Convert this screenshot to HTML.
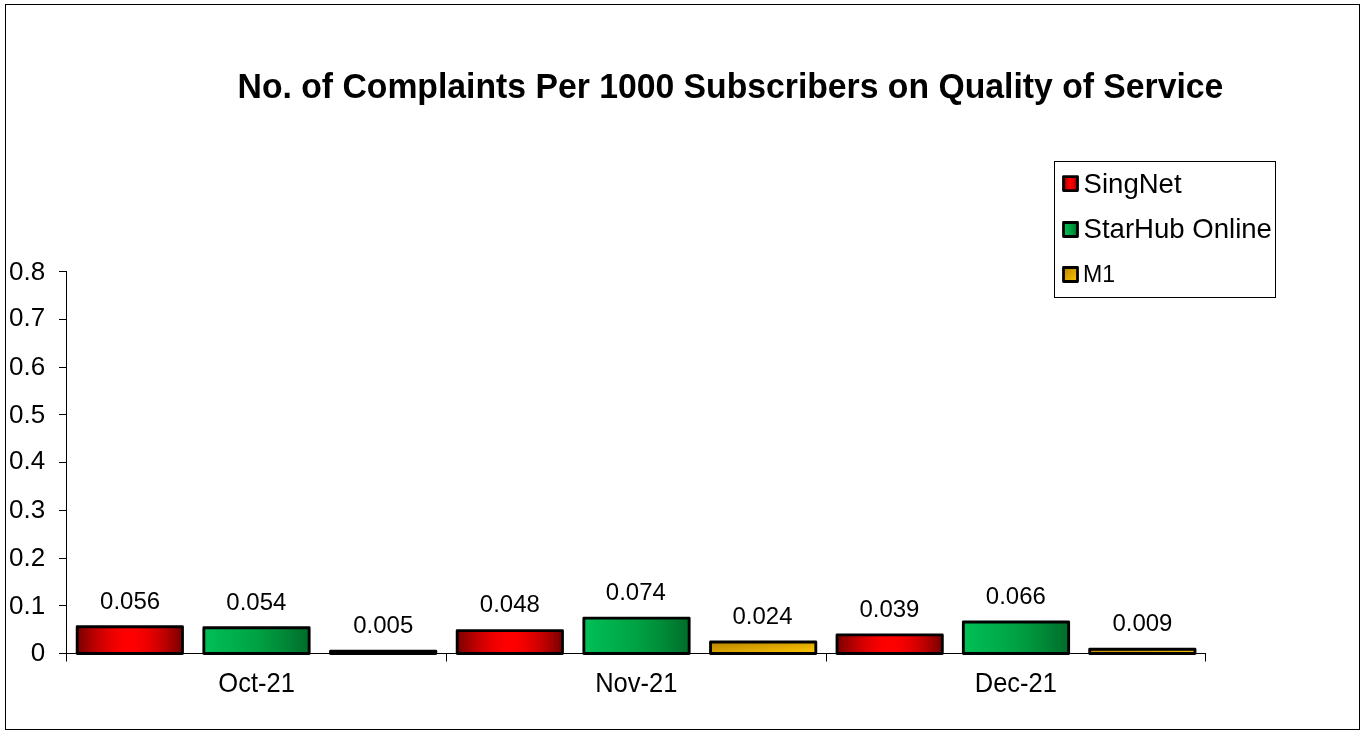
<!DOCTYPE html>
<html><head><meta charset="utf-8"><title>No. of Complaints Per 1000 Subscribers on Quality of Service</title><style>
html,body{margin:0;padding:0;background:#fff;}
svg{display:block;}
text{font-family:"Liberation Sans",sans-serif;fill:#000;}
</style></head><body>
<svg width="1366" height="735" viewBox="0 0 1366 735">
<defs>
<linearGradient id="gr" x1="0" y1="0" x2="1" y2="0">
<stop offset="0" stop-color="#780000"/><stop offset="0.05" stop-color="#8d0000"/><stop offset="0.1" stop-color="#a20000"/><stop offset="0.15" stop-color="#b60000"/><stop offset="0.2" stop-color="#c70000"/><stop offset="0.25" stop-color="#d60000"/><stop offset="0.3" stop-color="#e30000"/><stop offset="0.35" stop-color="#ee0000"/><stop offset="0.4" stop-color="#f70000"/><stop offset="0.45" stop-color="#fd0000"/><stop offset="0.5" stop-color="#ff0000"/><stop offset="0.55" stop-color="#fd0000"/><stop offset="0.6" stop-color="#f70000"/><stop offset="0.65" stop-color="#ee0000"/><stop offset="0.7" stop-color="#e30000"/><stop offset="0.75" stop-color="#d60000"/><stop offset="0.8" stop-color="#c70000"/><stop offset="0.85" stop-color="#b60000"/><stop offset="0.9" stop-color="#a20000"/><stop offset="0.95" stop-color="#8d0000"/><stop offset="1" stop-color="#780000"/>
</linearGradient>
<linearGradient id="gg" x1="0" y1="0" x2="1" y2="0">
<stop offset="0" stop-color="#00c056"/><stop offset="0.5" stop-color="#00a243"/><stop offset="0.75" stop-color="#008a38"/><stop offset="1" stop-color="#006c2a"/>
</linearGradient>
<linearGradient id="gy" x1="0" y1="0" x2="1" y2="1">
<stop offset="0" stop-color="#b88300"/><stop offset="1" stop-color="#ffc800"/>
</linearGradient>
</defs>
<rect x="0" y="0" width="1366" height="735" fill="#fff"/>
<rect x="5.5" y="4.5" width="1354" height="725" fill="none" stroke="#000" stroke-width="1"/>
<path d="M66.5 271V661.5" stroke="#000" stroke-width="1" fill="none"/>
<path d="M59 653.5H66M59 605.5H66M59 558.5H66M59 510.5H66M59 462.5H66M59 414.5H66M59 367.5H66M59 319.5H66M59 271.5H66M66 653.5H1206M446.5 653V661.5M826.5 653V661.5M1205.5 653V661.5" stroke="#000" stroke-width="1" fill="none"/>
<rect x="77.18" y="626.76" width="105.30" height="26.74" fill="url(#gr)" stroke="#000" stroke-width="2.85" stroke-linejoin="round"/>
<rect x="203.85" y="627.72" width="105.30" height="25.78" fill="url(#gg)" stroke="#000" stroke-width="2.85" stroke-linejoin="round"/>
<rect x="330.52" y="651.11" width="105.30" height="2.39" fill="url(#gy)" stroke="#000" stroke-width="2.85" stroke-linejoin="round"/>
<rect x="457.18" y="630.58" width="105.30" height="22.92" fill="url(#gr)" stroke="#000" stroke-width="2.85" stroke-linejoin="round"/>
<rect x="583.85" y="618.16" width="105.30" height="35.34" fill="url(#gg)" stroke="#000" stroke-width="2.85" stroke-linejoin="round"/>
<rect x="710.52" y="642.04" width="105.30" height="11.46" fill="url(#gy)" stroke="#000" stroke-width="2.85" stroke-linejoin="round"/>
<rect x="837.02" y="634.88" width="105.30" height="18.62" fill="url(#gr)" stroke="#000" stroke-width="2.85" stroke-linejoin="round"/>
<rect x="963.35" y="621.99" width="105.30" height="31.51" fill="url(#gg)" stroke="#000" stroke-width="2.85" stroke-linejoin="round"/>
<rect x="1089.68" y="649.20" width="105.30" height="4.30" fill="url(#gy)" stroke="#000" stroke-width="2.85" stroke-linejoin="round"/>
<rect x="1054.5" y="161.5" width="221" height="136" fill="#fff" stroke="#000" stroke-width="1"/>
<rect x="1063.5" y="176.6" width="14" height="14" fill="url(#gr)" stroke="#000" stroke-width="2.8" stroke-linejoin="round"/>
<rect x="1063.5" y="222.5" width="14" height="14" fill="url(#gg)" stroke="#000" stroke-width="2.8" stroke-linejoin="round"/>
<rect x="1063.5" y="267.5" width="14" height="14" fill="url(#gy)" stroke="#000" stroke-width="2.8" stroke-linejoin="round"/>
<g opacity="0.999">
<text x="237.54" y="97.75" font-size="33.74" font-weight="bold" transform="matrix(1 0 0 1.0662 0 -6.467)">No. of Complaints Per 1000 Subscribers on Quality of Service</text>
<text x="45.23" y="660.55" font-size="26.00" text-anchor="end" transform="matrix(1 0 0 1.0103 0 -6.817)">0</text>
<text x="45.23" y="613.75" font-size="26.00" text-anchor="end" transform="matrix(1 0 0 1.0103 0 -6.334)">0.1</text>
<text x="45.23" y="565.65" font-size="26.00" text-anchor="end" transform="matrix(1 0 0 1.0103 0 -5.838)">0.2</text>
<text x="45.23" y="517.85" font-size="26.00" text-anchor="end" transform="matrix(1 0 0 1.0103 0 -5.344)">0.3</text>
<text x="45.23" y="469.45" font-size="26.00" text-anchor="end" transform="matrix(1 0 0 1.0103 0 -4.845)">0.4</text>
<text x="45.23" y="422.65" font-size="26.00" text-anchor="end" transform="matrix(1 0 0 1.0103 0 -4.362)">0.5</text>
<text x="45.23" y="374.65" font-size="26.00" text-anchor="end" transform="matrix(1 0 0 1.0103 0 -3.867)">0.6</text>
<text x="45.23" y="326.45" font-size="26.00" text-anchor="end" transform="matrix(1 0 0 1.0103 0 -3.369)">0.7</text>
<text x="45.23" y="279.65" font-size="26.00" text-anchor="end" transform="matrix(1 0 0 1.0103 0 -2.886)">0.8</text>
<text x="256.61" y="691.64" font-size="25.51" text-anchor="middle" transform="matrix(1 0 0 1.0520 0 -35.999)">Oct-21</text>
<text x="130.12" y="608.57" font-size="23.98" text-anchor="middle" transform="matrix(1 0 0 0.9959 0 2.510)">0.056</text>
<text x="256.38" y="609.67" font-size="23.98" text-anchor="middle" transform="matrix(1 0 0 0.9959 0 2.515)">0.054</text>
<text x="383.29" y="632.57" font-size="23.98" text-anchor="middle" transform="matrix(1 0 0 0.9959 0 2.609)">0.005</text>
<text x="636.29" y="691.64" font-size="25.51" text-anchor="middle" transform="matrix(1 0 0 1.0520 0 -35.999)">Nov-21</text>
<text x="509.81" y="611.87" font-size="23.98" text-anchor="middle" transform="matrix(1 0 0 0.9959 0 2.524)">0.048</text>
<text x="635.88" y="599.67" font-size="23.98" text-anchor="middle" transform="matrix(1 0 0 0.9959 0 2.474)">0.074</text>
<text x="762.53" y="623.67" font-size="23.98" text-anchor="middle" transform="matrix(1 0 0 0.9959 0 2.573)">0.024</text>
<text x="1015.89" y="691.64" font-size="25.51" text-anchor="middle" transform="matrix(1 0 0 1.0520 0 -35.999)">Dec-21</text>
<text x="889.40" y="616.87" font-size="23.98" text-anchor="middle" transform="matrix(1 0 0 0.9959 0 2.545)">0.039</text>
<text x="1015.83" y="603.67" font-size="23.98" text-anchor="middle" transform="matrix(1 0 0 0.9959 0 2.490)">0.066</text>
<text x="1142.40" y="630.57" font-size="23.98" text-anchor="middle" transform="matrix(1 0 0 0.9959 0 2.601)">0.009</text>
<text x="1083.55" y="192.97" font-size="27.58" transform="matrix(1 0 0 1.0191 0 -3.678)">SingNet</text>
<text x="1083.55" y="237.83" font-size="27.58" transform="matrix(1 0 0 0.9970 0 0.704)">StarHub Online</text>
<text x="1083.10" y="281.90" font-size="23.14" transform="matrix(1 0 0 1.0616 0 -17.353)">M1</text>
</g>
</svg>
</body></html>
